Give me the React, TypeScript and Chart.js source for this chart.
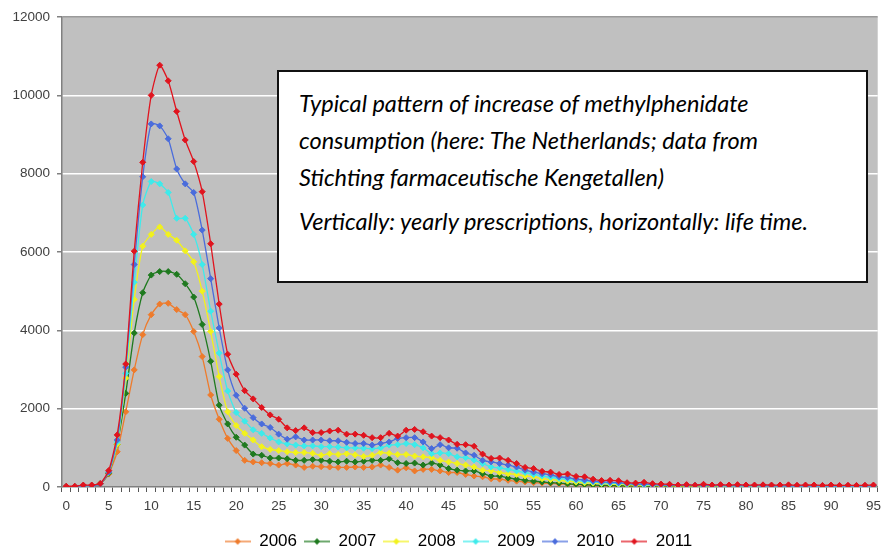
import React, { useEffect, useRef } from "react";
import { Chart, registerables } from "chart.js";

Chart.register(...registerables);

// ---------- data ----------
const AGES = [
  "0","1","2","3","4","5","6","7","8","9","10","11","12","13","14","15","16","17","18","19",
  "20","21","22","23","24","25","26","27","28","29","30","31","32","33","34","35","36","37","38","39",
  "40","41","42","43","44","45","46","47","48","49","50","51","52","53","54","55","56","57","58","59",
  "60","61","62","63","64","65","66","67","68","69","70","71","72","73","74","75","76","77","78","79",
  "80","81","82","83","84","85","86","87","88","89","90","91","92","93","94","95",
];

const Y_TICKS = [0, 2000, 4000, 6000, 8000, 10000, 12000];

const SERIES_NAMES = ["2006", "2007", "2008", "2009", "2010", "2011"];

const Y2006 = [
  10, 10, 20, 30, 80, 330, 900, 1920, 2990, 3890, 4400, 4670, 4690, 4530, 4400, 3970, 3330, 2350, 1730, 1240,
  930, 680, 640, 620, 600, 560, 600, 560, 500, 530, 520, 510, 500, 500, 510, 500, 510, 560, 500, 430,
  490, 410, 450, 450, 410, 370, 370, 320, 280, 260, 210, 200, 170, 150, 130, 110, 100, 90, 80, 70,
  60, 50, 40, 30, 30, 20, 20, 20, 20, 20, 15, 15, 15, 15, 15, 15, 15, 10, 10, 10,
  10, 10, 10, 10, 10, 10, 10, 10, 10, 10, 10, 10, 10, 10, 10, 10,
];
const Y2007 = [
  10, 10, 20, 30, 80, 350, 1090, 2390, 3930, 4960, 5410, 5500, 5500, 5430, 5190, 4850, 4150, 3210, 2090, 1610,
  1270, 1070, 840, 810, 740, 740, 720, 680, 680, 700, 680, 660, 640, 660, 640, 660, 680, 680, 720, 620,
  600, 610, 560, 610, 560, 470, 430, 410, 410, 340, 280, 280, 230, 200, 170, 150, 130, 110, 100, 80,
  70, 60, 50, 40, 40, 30, 30, 30, 25, 25, 25, 20, 20, 20, 20, 20, 20, 20, 20, 20,
  20, 15, 15, 15, 15, 15, 15, 15, 15, 15, 15, 15, 15, 15, 15, 15,
];
const Y2008 = [
  10, 10, 20, 30, 90, 370, 1090, 2780, 4790, 6150, 6450, 6640, 6450, 6300, 6030, 5750, 5000, 3970, 2820, 1920,
  1570, 1370, 1200, 1030, 960, 930, 900, 880, 880, 860, 810, 850, 830, 850, 820, 780, 810, 880, 860, 830,
  830, 790, 770, 750, 680, 640, 600, 560, 510, 430, 410, 370, 340, 320, 280, 260, 210, 190, 170, 150,
  130, 110, 100, 90, 80, 70, 60, 50, 45, 40, 35, 35, 30, 30, 30, 30, 30, 25, 25, 25,
  25, 25, 25, 20, 20, 20, 20, 20, 20, 20, 20, 20, 20, 20, 20, 20,
];
const Y2009 = [
  10, 10, 30, 30, 90, 380, 1150, 2900, 5230, 7200, 7800, 7740, 7520, 6860, 6860, 6450, 5680, 4490, 3420, 2450,
  1900, 1680, 1460, 1370, 1250, 1150, 1100, 1070, 1050, 1050, 1030, 1030, 1020, 1000, 1000, 990, 980, 1000, 1070, 1080,
  1110, 1080, 1000, 850, 870, 850, 770, 750, 690, 600, 510, 490, 450, 410, 370, 320, 280, 250, 220, 200,
  170, 150, 130, 110, 100, 90, 80, 70, 60, 55, 50, 45, 40, 40, 40, 35, 35, 35, 30, 30,
  30, 30, 30, 30, 30, 25, 25, 25, 25, 25, 25, 25, 25, 25, 25, 25,
];
const Y2010 = [
  10, 10, 30, 30, 80, 380, 1200, 3060, 5680, 7920, 9270, 9220, 8890, 8120, 7740, 7520, 6560, 5320, 4060, 2990,
  2340, 2010, 1770, 1610, 1520, 1350, 1220, 1280, 1200, 1200, 1200, 1180, 1180, 1140, 1110, 1110, 1070, 1110, 1150, 1240,
  1260, 1260, 1150, 980, 1080, 1000, 990, 870, 810, 680, 640, 600, 560, 510, 430, 380, 340, 310, 260, 240,
  200, 180, 150, 130, 120, 110, 90, 70, 80, 60, 50, 50, 45, 45, 40, 40, 40, 40, 35, 35,
  35, 35, 35, 30, 30, 30, 30, 30, 30, 30, 30, 30, 30, 30, 30, 30,
];
const Y2011 = [
  20, 20, 50, 50, 90, 420, 1330, 3140, 6020, 8290, 10000, 10770, 10370, 9590, 8860, 8310, 7540, 6210, 4670, 3390,
  2880, 2460, 2250, 2030, 1840, 1730, 1510, 1440, 1510, 1390, 1390, 1430, 1450, 1350, 1350, 1320, 1260, 1260, 1370, 1300,
  1450, 1470, 1410, 1300, 1260, 1200, 1090, 1080, 1040, 840, 730, 740, 680, 600, 500, 470, 400, 380, 320, 330,
  270, 260, 200, 165, 170, 160, 110, 100, 120, 85, 75, 70, 50, 60, 45, 70, 50, 60, 50, 60,
  50, 50, 55, 50, 50, 55, 45, 50, 50, 40, 50, 40, 45, 40, 45, 50,
];

const SERIES_VALUES = [Y2006, Y2007, Y2008, Y2009, Y2010, Y2011];
const SERIES_COLORS = ["#EE7B2C", "#1F7A1F", "#F2F21C", "#3DEBEB", "#4A6CDC", "#E0141E"];

const NOTE_PARA_1 = [
  "Typical pattern of increase of methylphenidate",
  "consumption (here: The Netherlands; data from",
  "Stichting farmaceutische Kengetallen)",
];
const NOTE_PARA_2 = "Vertically: yearly prescriptions, horizontally: life time.";

// ---------- helpers ----------
function legendSymbol(color: string): HTMLCanvasElement {
  const c = document.createElement("canvas");
  c.width = 26;
  c.height = 10;
  const g = c.getContext("2d")!;
  g.strokeStyle = color;
  g.lineWidth = 1.3;
  g.beginPath();
  g.moveTo(0, 5);
  g.lineTo(26, 5);
  g.stroke();
  g.fillStyle = color;
  g.beginPath();
  g.moveTo(13, 1.8);
  g.lineTo(16.2, 5);
  g.lineTo(13, 8.2);
  g.lineTo(9.8, 5);
  g.closePath();
  g.fill();
  return c;
}

const plotBackground = {
  id: "plotBackground",
  beforeDraw(chart: any) {
    const { ctx, chartArea: a } = chart;
    ctx.save();
    ctx.fillStyle = "#C0C0C0";
    ctx.fillRect(a.left, a.top, a.right - a.left, a.bottom - a.top);
    ctx.restore();
  },
};

const legendShift = {
  id: "legendShift",
  afterLayout(chart: any) {
    const lg = chart.legend;
    if (lg) {
      lg.left += 16;
      lg.right += 16;
    }
  },
};

export default function App() {
  const canvasRef = useRef<HTMLCanvasElement | null>(null);

  useEffect(() => {
    document.body.style.margin = "0";
    const canvas = canvasRef.current;
    if (!canvas) return;

    const symbols = SERIES_COLORS.map(legendSymbol);
    const defaultLabels = (Chart.defaults.plugins.legend.labels as any).generateLabels;

    const chart = new Chart(canvas, {
      type: "line",
      data: {
        labels: AGES,
        datasets: SERIES_NAMES.map((name, i) => ({
          label: name,
          data: SERIES_VALUES[i],
          borderColor: SERIES_COLORS[i],
          backgroundColor: SERIES_COLORS[i],
          pointBackgroundColor: SERIES_COLORS[i],
          pointBorderColor: SERIES_COLORS[i],
          pointStyle: "rectRot",
          pointRadius: 3,
          pointBorderWidth: 1,
          borderWidth: 1.3,
          tension: 0.2,
          fill: false,
          order: SERIES_NAMES.length - 1 - i,
        })),
      },
      options: {
        responsive: false,
        animation: false,
        events: [],
        layout: { padding: { top: 17, right: 2, left: 0, bottom: -11 } },
        scales: {
          x: {
            type: "category",
            offset: true,
            grid: {
              display: true,
              offset: true,
              drawOnChartArea: false,
              drawTicks: true,
              tickLength: 5,
              tickColor: "#555555",
            },
            border: { display: true, color: "#808080", width: 1.5 },
            ticks: {
              autoSkip: false,
              maxRotation: 0,
              minRotation: 0,
              padding: 6,
              color: "#404040",
              font: { family: "Arial, 'Liberation Sans', sans-serif", size: 13.5 },
              callback: (_v: any, i: number) => (i % 5 === 0 ? AGES[i] : ""),
            },
            afterFit: (scale: any) => {
              scale.height = 39;
            },
          },
          y: {
            min: 0,
            max: 12000,
            grid: {
              color: (ctx: any) =>
                ctx.tick && ctx.tick.value === 0
                  ? "rgba(0,0,0,0)"
                  : ctx.tick && ctx.tick.value === 12000
                  ? "#9A9A9A"
                  : "#FFFFFF",
              lineWidth: 1.5,
              drawTicks: true,
              tickLength: 5,
              tickColor: "#808080",
            },
            border: { display: true, color: "#808080", width: 1.5 },
            afterBuildTicks: (scale: any) => {
              scale.ticks = Y_TICKS.map((v) => ({ value: v }));
            },
            ticks: {
              padding: 7,
              color: "#404040",
              font: { family: "Arial, 'Liberation Sans', sans-serif", size: 13.5 },
              callback: (v: any) => String(v),
            },
            afterFit: (scale: any) => {
              scale.width = 62;
            },
          },
        },
        plugins: {
          tooltip: { enabled: false },
          legend: {
            display: true,
            position: "bottom",
            labels: {
              usePointStyle: true,
              pointStyleWidth: 26,
              boxHeight: 10,
              padding: 7,
              color: "#000000",
              font: { family: "Arial, 'Liberation Sans', sans-serif", size: 17 },
              generateLabels: (c: any) => {
                const items = defaultLabels(c);
                items.forEach((it: any) => {
                  it.pointStyle = symbols[it.datasetIndex];
                });
                return items.sort((a: any, b: any) => a.datasetIndex - b.datasetIndex);
              },
            },
          },
        },
      },
      plugins: [plotBackground, legendShift],
    } as any);

    return () => {
      chart.destroy();
    };
  }, []);

  return (
    <div style={{ position: "relative", width: 887, height: 549, background: "#FFFFFF" }}>
      <canvas ref={canvasRef} width={887} height={549} style={{ display: "block" }} />
      <div
        style={{
          position: "absolute",
          left: 277,
          top: 70,
          width: 591,
          height: 213,
          boxSizing: "border-box",
          border: "2px solid #111111",
          background: "#FFFFFF",
          padding: "13px 0 0 20px",
          fontFamily: "Lato, 'Open Sans', sans-serif",
          fontStyle: "italic",
          fontSize: 23.5,
          lineHeight: "37px",
          color: "#000000",
        }}
      >
        <div>
          {NOTE_PARA_1.map((line, i) => (
            <div key={i} style={{ whiteSpace: "nowrap" }}>{line}</div>
          ))}
        </div>
        <div style={{ marginTop: 7, whiteSpace: "nowrap" }}>{NOTE_PARA_2}</div>
      </div>
    </div>
  );
}
